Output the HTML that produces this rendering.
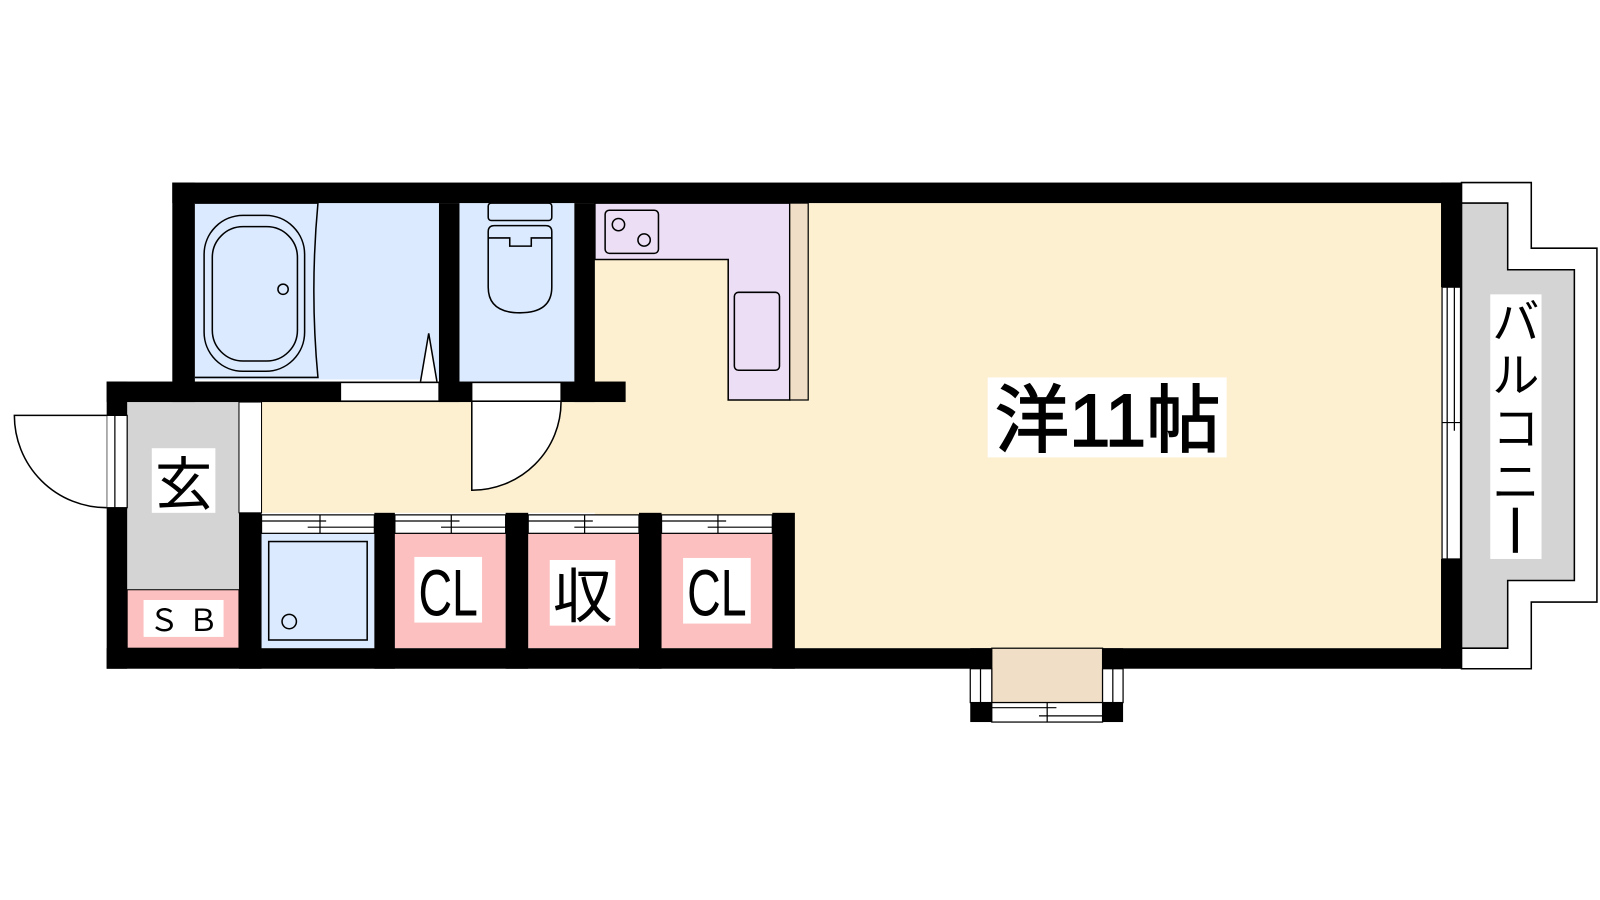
<!DOCTYPE html>
<html><head><meta charset="utf-8"><style>
html,body{margin:0;padding:0;background:#fff;width:1600px;height:900px;overflow:hidden}
svg{display:block}
text{font-family:"Liberation Sans","Noto Sans CJK JP",sans-serif;fill:#000}
</style></head><body>
<svg width="1600" height="900" viewBox="0 0 1560 877.5" preserveAspectRatio="none" xmlns="http://www.w3.org/2000/svg">
<rect width="1560" height="877.5" fill="#fff"/>
<path d="M1425 178 H1493 V242 H1557 V587 H1493 V652 H1425 Z" fill="#fff" stroke="#000" stroke-width="1.5"/>
<path d="M1425 198 H1470 V263 H1535 V566 H1470 V632 H1425 Z" fill="#d4d4d4" stroke="#000" stroke-width="1.5"/>
<rect x="580" y="198" width="826" height="434" fill="#fdf0d1"/>
<rect x="255" y="392" width="520" height="108" fill="#fdf0d1"/>
<rect x="190" y="198" width="238" height="172" fill="#dbeafe"/>
<rect x="448" y="198" width="112" height="174" fill="#dbeafe"/>
<path d="M580 198 H770 V390 H710 V253 H580 Z" fill="#ecdff5" stroke="#000" stroke-width="1.5"/>
<rect x="770" y="198" width="18" height="192" fill="#f0dfc6" stroke="#000" stroke-width="1.2"/>
<rect x="590" y="205" width="52" height="42" rx="4" fill="none" stroke="#000" stroke-width="1.5"/>
<circle cx="603" cy="219" r="6" fill="none" stroke="#000" stroke-width="1.5"/>
<circle cx="628" cy="234" r="6" fill="none" stroke="#000" stroke-width="1.5"/>
<rect x="716" y="285" width="44" height="76" rx="4" fill="none" stroke="#000" stroke-width="1.5"/>
<path d="M190 198 H310 Q302 284 310 368 H190" fill="none" stroke="#000" stroke-width="1.5"/>
<rect x="199" y="210" width="98" height="152" rx="38" fill="none" stroke="#000" stroke-width="1.5"/>
<rect x="207" y="221" width="83" height="131" rx="30" fill="none" stroke="#000" stroke-width="1.5"/>
<circle cx="276" cy="282" r="5" fill="none" stroke="#000" stroke-width="1.5"/>
<path d="M410 372 L418 325 L426 372" fill="#fff" stroke="#000" stroke-width="1.5"/>
<rect x="476" y="198" width="62" height="17" rx="3" fill="#dbeafe" stroke="#000" stroke-width="1.5"/>
<path d="M476 226 Q476 220 482 220 H532 Q538 220 538 226 V280 Q538 305 507 305 Q476 305 476 280 Z" fill="#dbeafe" stroke="#000" stroke-width="1.5"/>
<path d="M476 232 H497 V240 H518 V232 H538" fill="none" stroke="#000" stroke-width="1.5"/>
<rect x="124" y="392" width="109" height="183" fill="#d4d4d4"/>
<rect x="124" y="575" width="109" height="57" fill="#fcc0c0" stroke="#000" stroke-width="1"/>
<rect x="233" y="392" width="22" height="108" fill="#fff" stroke="#000" stroke-width="1"/>
<rect x="255" y="520" width="110" height="112" fill="#dbeafe"/>
<rect x="262" y="528" width="96" height="96" fill="none" stroke="#000" stroke-width="1.5"/>
<circle cx="282" cy="606" r="7" fill="none" stroke="#000" stroke-width="1.5"/>
<rect x="385" y="520" width="108" height="112" fill="#fcc0c0"/>
<rect x="515" y="520" width="108" height="112" fill="#fcc0c0"/>
<rect x="645" y="520" width="108" height="112" fill="#fcc0c0"/>
<g stroke="#000" stroke-width="1.2" fill="#fff">
<rect x="255" y="502" width="110" height="18"/><rect x="385" y="502" width="108" height="18"/>
<rect x="515" y="502" width="108" height="18"/><rect x="645" y="502" width="108" height="18"/>
<path d="M255 508 H318 M300 514 H365 M312 502 V520 M385 508 H448 M430 514 H493 M440 502 V520 M515 508 H578 M560 514 H623 M570 502 V520 M645 508 H708 M690 514 H753 M700 502 V520" fill="none"/>
</g>
<g fill="#000">
<rect x="168" y="178" width="1257" height="20"/>
<rect x="168" y="178" width="22" height="214"/>
<rect x="104" y="372" width="506" height="20"/>
<rect x="104" y="372" width="20" height="280"/>
<rect x="104" y="632" width="1321" height="20"/>
<rect x="1405" y="178" width="20" height="102"/>
<rect x="1405" y="545" width="20" height="107"/>
<rect x="428" y="198" width="20" height="194"/>
<rect x="560" y="198" width="20" height="194"/>
<rect x="233" y="500" width="22" height="152"/>
<rect x="365" y="500" width="20" height="152"/>
<rect x="493" y="500" width="22" height="152"/>
<rect x="623" y="500" width="22" height="152"/>
<rect x="753" y="500" width="22" height="152"/>
</g>
<g fill="#fff" stroke="#000" stroke-width="1.2">
<rect x="332" y="373" width="96" height="18"/>
<rect x="460" y="373" width="87" height="18"/>
<rect x="104" y="405" width="20" height="90"/>
<rect x="1406" y="280" width="18" height="265"/>
</g>
<path d="M112 405 V495 M1411 280 V545 M1418 280 V420 M1406 412 H1424" stroke="#000" stroke-width="1.2" fill="none"/>
<path d="M104 405 H14 A90 90 0 0 0 104 495" fill="#fff" stroke="#000" stroke-width="1.5"/>
<path d="M460 392 V478 A87 86 0 0 0 547 392" fill="#fff" stroke="#000" stroke-width="1.5"/>
<rect x="967" y="632" width="108" height="53" fill="#f0dfc6" stroke="#000" stroke-width="1.2"/>
<g fill="#000"><rect x="946" y="632" width="21" height="20"/><rect x="1075" y="632" width="20" height="20"/>
<rect x="946" y="685" width="21" height="19"/><rect x="1075" y="685" width="20" height="19"/></g>
<g fill="#fff" stroke="#000" stroke-width="1.2">
<rect x="946" y="652" width="21" height="33"/><rect x="1075" y="652" width="20" height="33"/>
<rect x="967" y="685" width="108" height="19"/></g>
<path d="M956 652 V685 M1085 652 V685 M967 690 H1030 M1013 698 H1075 M1021 685 V704" stroke="#000" stroke-width="1.2"/>
<rect x="963" y="368" width="233" height="78" fill="#fff"/>
<text x="970" y="435" font-size="72" textLength="220" lengthAdjust="spacingAndGlyphs" stroke="#000" stroke-width="1.5">洋11帖</text>
<rect x="148" y="437" width="62" height="63" fill="#fff"/>
<text x="179" y="492" font-size="56" text-anchor="middle">玄</text>
<rect x="140" y="585" width="78" height="36" fill="#fff"/>
<text x="179" y="615" font-size="30" text-anchor="middle">Ｓ Ｂ</text>
<rect x="404" y="543" width="66" height="64" fill="#fff"/>
<text x="408" y="600" font-size="64" textLength="58" lengthAdjust="spacingAndGlyphs">CL</text>
<rect x="536" y="546" width="64" height="64" fill="#fff"/>
<text x="568" y="602" font-size="58" text-anchor="middle">収</text>
<rect x="666" y="544" width="66" height="64" fill="#fff"/>
<text x="670" y="600" font-size="64" textLength="58" lengthAdjust="spacingAndGlyphs">CL</text>
<rect x="1453" y="287" width="50" height="258" fill="#fff"/>
<text x="1478" y="330" font-size="46" text-anchor="middle">バ</text>
<text x="1478" y="382" font-size="46" text-anchor="middle">ル</text>
<text x="1478" y="434" font-size="46" text-anchor="middle">コ</text>
<text x="1478" y="486" font-size="46" text-anchor="middle">ニ</text>
<rect x="1475" y="495" width="5" height="44" fill="#000"/>
</svg>
</body></html>
